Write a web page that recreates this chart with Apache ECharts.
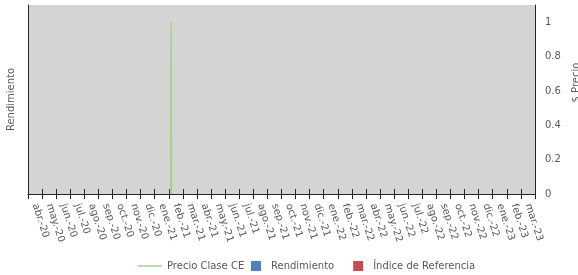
<!DOCTYPE html>
<html>
<head>
<meta charset="utf-8">
<script src="https://cdn.jsdelivr.net/npm/echarts@6/dist/echarts.min.js"></script>
<style>
  html, body { margin: 0; padding: 0; background: #fff; }
  #chart { width: 578px; height: 275px; }
</style>
</head>
<body>
<div id="chart"></div>
<script>
// meses del eje x
const meses = [
  "abr.-20", "may.-20", "jun.-20", "jul.-20", "ago.-20", "sep.-20", "oct.-20", "nov.-20", "dic.-20",
  "ene.-21", "feb.-21", "mar.-21", "abr.-21", "may.-21", "jun.-21", "jul.-21", "ago.-21", "sep.-21",
  "oct.-21", "nov.-21", "dic.-21", "ene.-22", "feb.-22", "mar.-22", "abr.-22", "may.-22", "jun.-22",
  "jul.-22", "ago.-22", "sep.-22", "oct.-22", "nov.-22", "dic.-22", "ene.-23", "feb.-23", "mar.-23",
];

// precio clase CE (diario)
const precioFechas = ["2021-02-03", "2021-02-04", "2021-02-05"];
const precioValores = [0, 1, 0];

// barras sin datos
const rendimiento = [];
const indiceReferencia = [];

const precioTicks = [0, 0.2, 0.4, 0.6, 0.8, 1];

const fuente = "DejaVu Sans";
const gris = "#595959";

const myChart = echarts.init(document.getElementById("chart"));

myChart.setOption({
  animation: false,
  grid: {
    left: 28,
    right: 43,
    top: 5,
    bottom: 81,
    outerBoundsMode: "none",
    containLabel: false,
    show: true,
    backgroundColor: "#d4d4d4",
    borderWidth: 0,
  },
  legend: [
    {
      data: [{ name: "Precio Clase CE", icon: "rect" }],
      left: 133,
      top: 256,
      itemWidth: 24,
      itemHeight: 1.5,
      textStyle: { fontFamily: fuente, fontSize: 10, color: gris },
    },
    {
      data: [
        { name: "Rendimiento", icon: "rect" },
        { name: "Índice de Referencia", icon: "rect" },
      ],
      left: 246,
      top: 256,
      itemWidth: 10,
      itemHeight: 10,
      itemGap: 19,
      textStyle: { fontFamily: fuente, fontSize: 10, color: gris, padding: [0, 0, 0, 5] },
    },
  ],
  xAxis: [
    {
      type: "category",
      data: meses,
      boundaryGap: true,
      axisLine: { lineStyle: { color: "#262626", width: 1 } },
      axisTick: { show: true, interval: 0, length: 5, lineStyle: { color: "#262626" } },
      axisLabel: {
        rotate: -72,
        margin: 10,
        interval: 0,
        fontFamily: fuente,
        fontSize: 10,
        color: gris,
      },
      splitLine: { show: false },
    },
    {
      // marcas hacia adentro para que crucen el eje
      type: "category",
      data: meses,
      position: "bottom",
      boundaryGap: true,
      axisLine: { show: false },
      axisTick: { show: true, interval: 0, inside: true, length: 5, lineStyle: { color: "#262626" } },
      axisLabel: { show: false },
      splitLine: { show: false },
    },
    {
      type: "time",
      show: false,
      min: "2020-04-01",
      max: "2023-04-01",
      splitLine: { show: false },
    },
  ],
  yAxis: [
    {
      type: "value",
      position: "left",
      min: 0,
      max: 1,
      name: "Rendimiento",
      nameLocation: "middle",
      nameGap: 12,
      nameTextStyle: { fontFamily: fuente, fontSize: 10, color: gris },
      axisLine: { show: true, lineStyle: { color: "#262626" } },
      axisTick: { show: false },
      axisLabel: { show: false },
      splitLine: { show: false },
    },
    {
      type: "value",
      position: "right",
      min: 0,
      max: 1.1,
      interval: 0.2,
      name: "$ Precio",
      nameLocation: "middle",
      nameRotate: 90,
      nameGap: 34,
      nameTextStyle: { fontFamily: fuente, fontSize: 10, color: gris, padding: [0, 0, 0, 34] },
      axisLine: { show: true, lineStyle: { color: "#262626" } },
      axisTick: { show: false },
      axisLabel: {
        margin: 10,
        showMaxLabel: false,
        fontFamily: fuente,
        fontSize: 10,
        color: gris,
        formatter: (v) => (precioTicks.includes(Math.round(v * 10) / 10) ? String(Math.round(v * 10) / 10) : ""),
      },
      splitLine: { show: false },
    },
  ],
  series: [
    {
      name: "Precio Clase CE",
      type: "line",
      xAxisIndex: 2,
      yAxisIndex: 1,
      symbol: "none",
      data: precioFechas.map((f, i) => [f, precioValores[i]]),
      lineStyle: { color: "#a9d18e", width: 1.5 },
      itemStyle: { color: "#a9d18e" },
    },
    {
      name: "Rendimiento",
      type: "bar",
      xAxisIndex: 0,
      yAxisIndex: 0,
      data: rendimiento,
      itemStyle: { color: "#4f81bd" },
    },
    {
      name: "Índice de Referencia",
      type: "bar",
      xAxisIndex: 0,
      yAxisIndex: 0,
      data: indiceReferencia,
      itemStyle: { color: "#c0504d" },
    },
  ],
});
</script>
</body>
</html>
